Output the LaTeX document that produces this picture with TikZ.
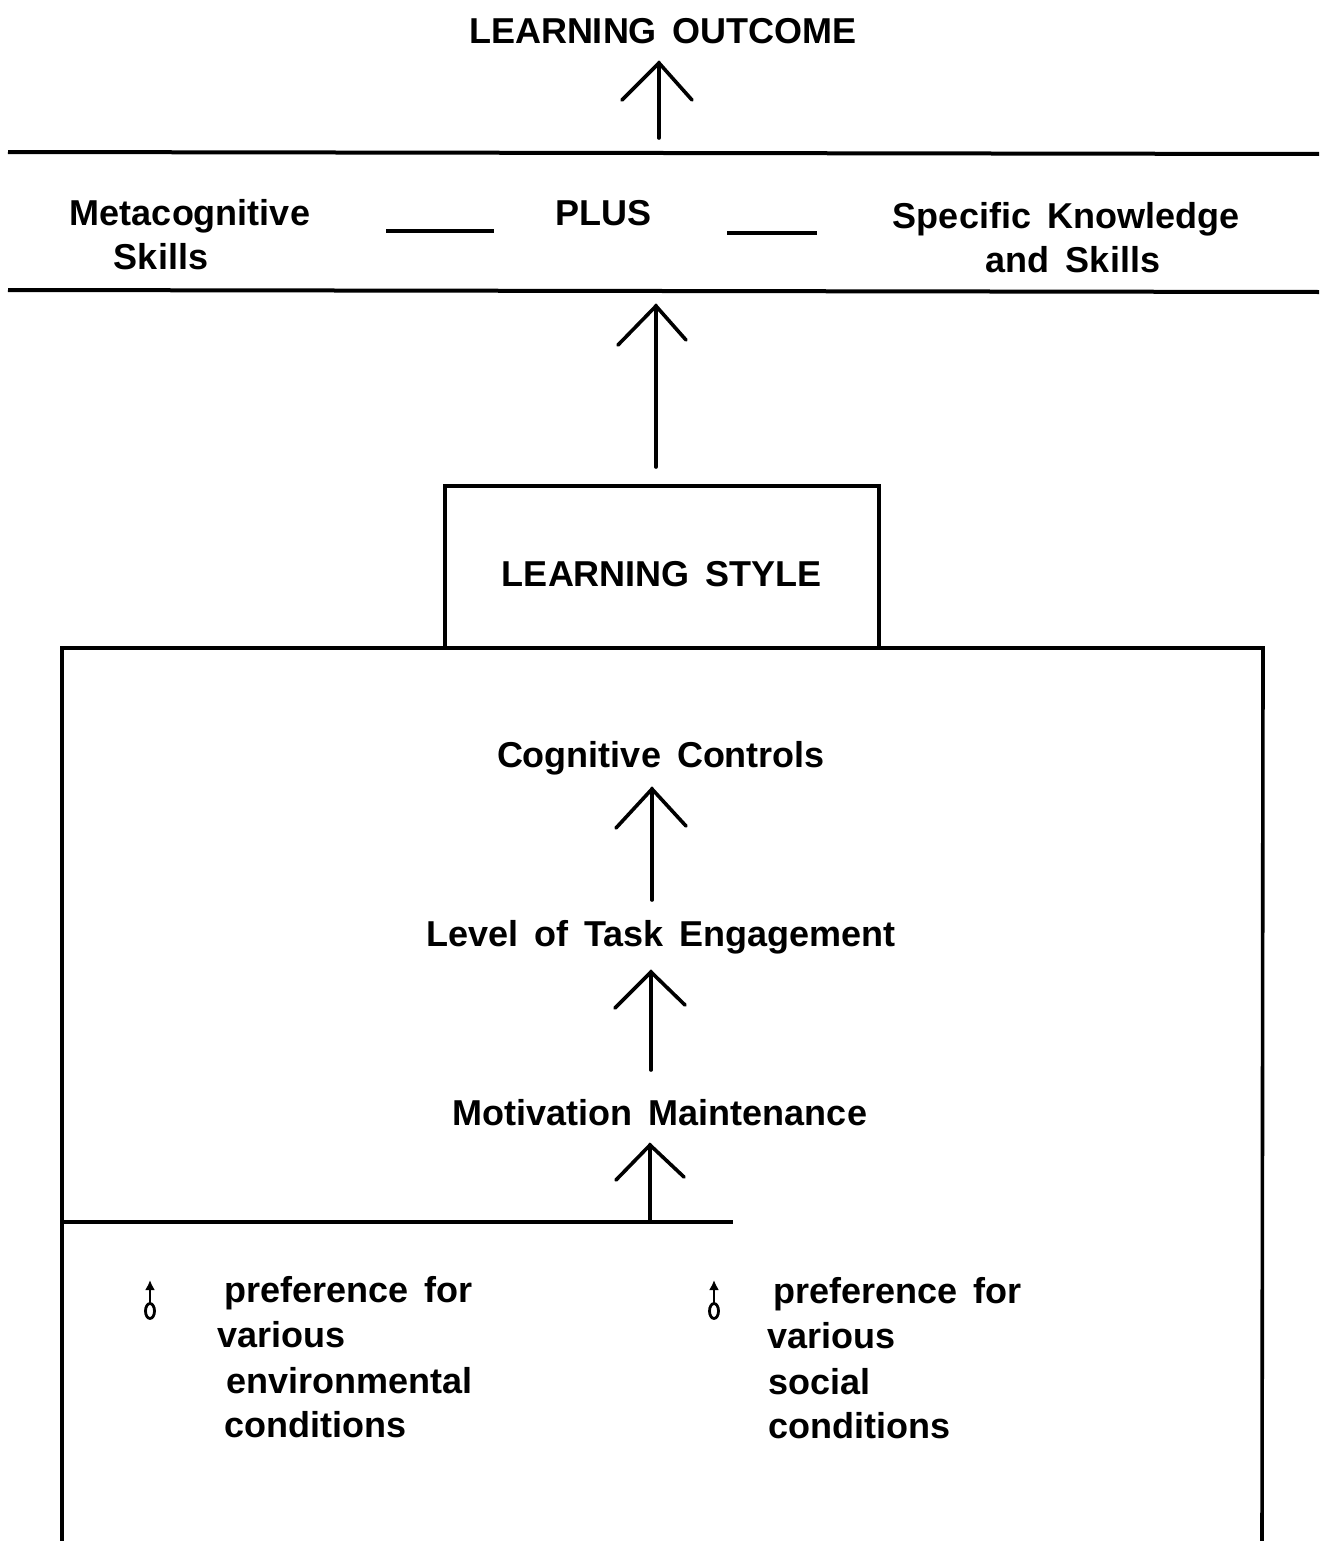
\documentclass[tikz,border=0pt]{standalone}
\usepackage{fontspec}
\usetikzlibrary{arrows.meta}
\setmainfont{Liberation Sans}[WordSpace=1.6]
\begin{document}
\begin{tikzpicture}[x=0.5pt,y=-0.5pt,
  lbl/.style={font=\fontsize{18}{20}\selectfont\bfseries, inner sep=0pt},
  rule/.style={line width=2pt},
  uparrow/.style={line width=1.8pt, line cap=round},
  tinyarrow/.style={line width=1.3pt}]
\useasboundingbox (0,0) rectangle (1319,1541);

% Top
\node[lbl, anchor=base] (outcome) at (663,44) {LEARNING OUTCOME};
\coordinate (a1b) at (659,138);
\coordinate (a1t) at (659,63);
\draw[uparrow] (a1b) -- (a1t);
\draw[uparrow] (622,100) -- (a1t) -- (692,100);

% Band with two rules
\coordinate (r1l) at (8,152); \coordinate (r1r) at (1319,154);
\coordinate (r2l) at (8,290); \coordinate (r2r) at (1319,292);
\draw[rule] (r1l) -- (r1r);
\draw[rule] (r2l) -- (r2r);
\node[lbl, anchor=base] (meta1) at (190,225) {Metacognitive};
\node[lbl, anchor=base] (meta2) at (161,269) {Skills};
\node[lbl, anchor=base] (plus) at (603,225) {PLUS};
\node[lbl, anchor=base] (spec1) at (1066,228) {Specific Knowledge};
\node[lbl, anchor=base] (spec2) at (1073,272) {and Skills};
\coordinate (d1a) at (386,231); \coordinate (d1b) at (494,231);
\coordinate (d2a) at (727,233); \coordinate (d2b) at (817,233);
\draw[rule] (d1a) -- (d1b);
\draw[rule] (d2a) -- (d2b);

% Arrow 2
\coordinate (a2b) at (656,467);
\coordinate (a2t) at (656,306);
\draw[uparrow] (a2b) -- (a2t);
\draw[uparrow] (618,345) -- (a2t) -- (686,340);

% Learning style box
\node[draw, line width=1.8pt, minimum width=434*0.5pt, minimum height=162*0.5pt, inner sep=0pt] (lsbox) at (662,567) {};
\node[lbl, anchor=base] (ls) at (662,586) {LEARNING STYLE};

% Big box, open at the bottom
\coordinate (bbl) at (62,1541); \coordinate (btl) at (62,648);
\coordinate (btr) at (1263,648); \coordinate (bbr) at (1262,1541);
\draw[line width=1.8pt] (bbl) -- (btl) -- (btr) -- (bbr);

\node[lbl, anchor=base] (cog) at (661,767) {Cognitive Controls};
\coordinate (a3b) at (652,900); \coordinate (a3t) at (652,789);
\draw[uparrow] (a3b) -- (a3t);
\draw[uparrow] (616,828) -- (a3t) -- (686,826);

\node[lbl, anchor=base] (lte) at (661,946) {Level of Task Engagement};
\coordinate (a4b) at (651,1070); \coordinate (a4t) at (651,972);
\draw[uparrow] (a4b) -- (a4t);
\draw[uparrow] (615,1008) -- (a4t) -- (685,1005);

\node[lbl, anchor=base] (mot) at (660,1125) {Motivation Maintenance};
\coordinate (a5b) at (650,1222); \coordinate (a5t) at (650,1145);
\draw[uparrow] (a5b) -- (a5t);
\draw[uparrow] (616,1180) -- (a5t) -- (684,1177);

% Divider
\coordinate (dvl) at (62,1222); \coordinate (dvr) at (733,1222);
\draw[line width=1.8pt] (dvl) -- (dvr);

% Symbols
\foreach \sx/\nm in {150/symL, 714/symR}{
  \coordinate (\nm b) at (\sx,1303);
  \coordinate (\nm t) at (\sx,1280);
  \draw[tinyarrow, -{Latex[length=5pt,width=5pt]}] (\nm b) -- (\nm t);
  \draw[line width=1.4pt] (\sx,1311) ellipse [x radius=4.5, y radius=7.5];
}

% Left text
\node[lbl, anchor=base west] (pl1) at (224,1302) {preference for};
\node[lbl, anchor=base west] (pl2) at (217,1347) {various};
\node[lbl, anchor=base west] (pl3) at (226,1393) {environmental};
\node[lbl, anchor=base west] (pl4) at (224,1437) {conditions};

% Right text
\node[lbl, anchor=base west] (pr1) at (773,1303) {preference for};
\node[lbl, anchor=base west] (pr2) at (767,1348) {various};
\node[lbl, anchor=base west] (pr3) at (768,1394) {social};
\node[lbl, anchor=base west] (pr4) at (768,1438) {conditions};
\end{tikzpicture}
\end{document}
